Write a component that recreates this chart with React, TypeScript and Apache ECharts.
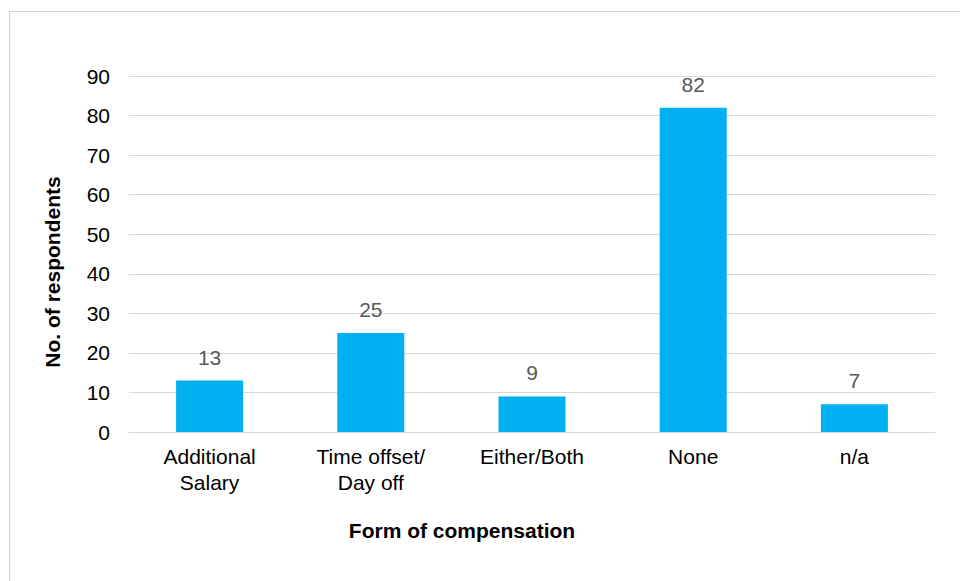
import React, { useEffect, useRef } from "react";
import * as echarts from "echarts";

const categories = ["Additional\nSalary", "Time offset/\nDay off", "Either/Both", "None", "n/a"];
const values = [13, 25, 9, 82, 7];
const yTicks = { min: 0, max: 90, interval: 10 };
const xTitle = "Form of compensation";
const yTitle = "No. of respondents";

export default function App() {
  const ref = useRef<HTMLDivElement>(null);
  useEffect(() => {
    document.body.style.margin = "0";
    const chart = echarts.init(ref.current!, undefined, { renderer: "svg" });
    chart.setOption({
      animation: false,
      backgroundColor: "#ffffff",
      textStyle: { fontFamily: "Liberation Sans, Arial, sans-serif" },
      grid: { left: 129, right: 25, top: 76, bottom: 149 },
      xAxis: {
        type: "category",
        data: categories,
        axisLine: { lineStyle: { color: "#d9d9d9", width: 1 } },
        axisTick: { show: false },
        axisLabel: { color: "#000000", fontSize: 21, lineHeight: 26, margin: 11 },
      },
      yAxis: {
        type: "value",
        min: yTicks.min,
        max: yTicks.max,
        interval: yTicks.interval,
        axisLine: { show: false },
        axisTick: { show: false },
        splitLine: { lineStyle: { color: "#d9d9d9", width: 1 } },
        axisLabel: { color: "#000000", fontSize: 21, margin: 19 },
      },
      series: [
        {
          type: "bar",
          data: values,
          barWidth: 67,
          itemStyle: { color: "#00b0f0" },
          label: { show: true, position: "top", color: "#595959", fontSize: 21, distance: 13 },
        },
      ],
      graphic: [
        {
          type: "rect",
          shape: { x: 9.5, y: 11.5, width: 1000, height: 1000 },
          style: { fill: "none", stroke: "#d0d0d0", lineWidth: 1 },
          silent: true,
        },
        {
          type: "text",
          x: 462,
          y: 530,
          style: {
            text: xTitle,
            fontSize: 21,
            fontWeight: "bold",
            fill: "#000000",
            align: "center",
            verticalAlign: "middle",
            fontFamily: "Liberation Sans, Arial, sans-serif",
          },
        },
        {
          type: "text",
          x: 52,
          y: 272,
          rotation: Math.PI / 2,
          style: {
            text: yTitle,
            fontSize: 21,
            fontWeight: "bold",
            fill: "#000000",
            align: "center",
            verticalAlign: "middle",
            fontFamily: "Liberation Sans, Arial, sans-serif",
          },
        },
      ],
    });
    return () => chart.dispose();
  }, []);
  return <div ref={ref} style={{ position: "absolute", left: 0, top: 0, width: 960, height: 581 }} />;
}
